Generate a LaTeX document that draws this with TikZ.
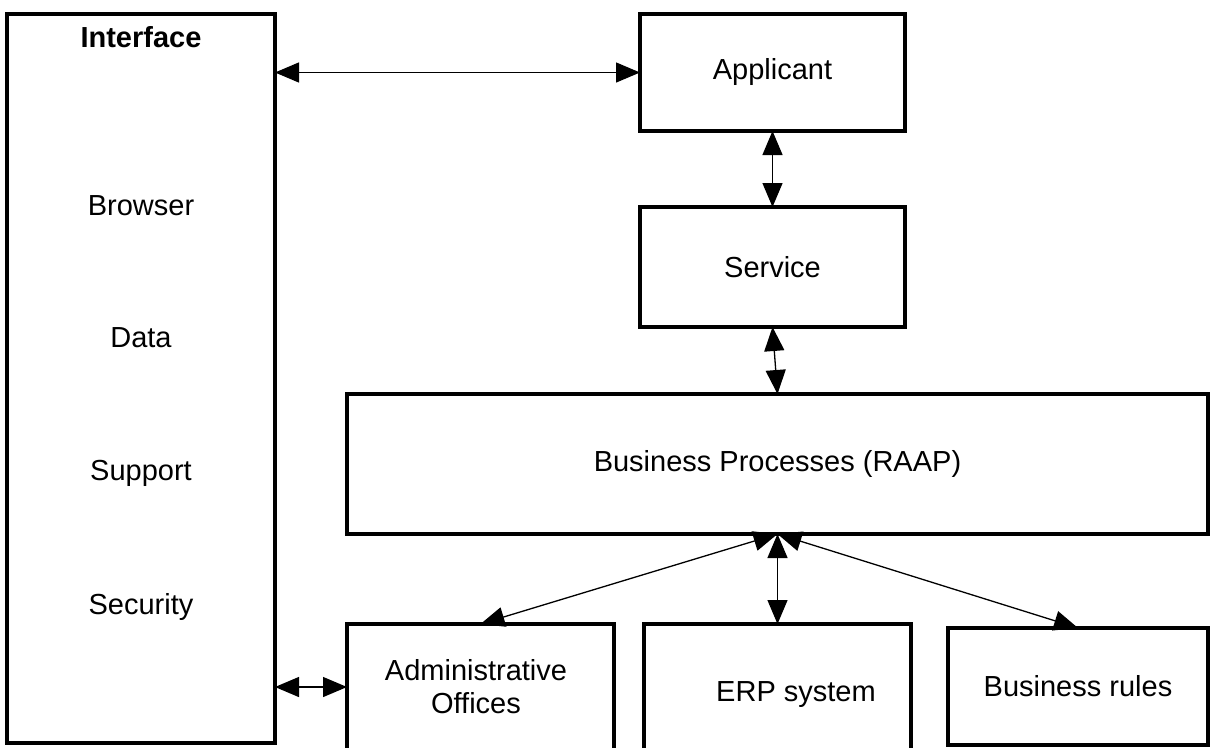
\documentclass[tikz,border=0pt]{standalone}
\usepackage{fontspec}
\setmainfont{Liberation Sans}
\usetikzlibrary{arrows.meta}

\tikzset{
  box/.style={draw=black, line width=3.3pt, fill=white, inner sep=0pt, outer sep=0pt,
              font=\fontsize{29}{33}\selectfont, align=center},
  txt/.style={inner sep=0pt, font=\fontsize{29}{33}\selectfont, align=center},
  link/.style={line width=1.3pt, {Triangle[length=24pt,width=20pt]}-{Triangle[length=24pt,width=20pt]}},
}

\begin{document}
\begin{tikzpicture}[x=1pt, y=-1pt]
  \useasboundingbox (0,0) rectangle (1215,747);
  \clip (0,0) rectangle (1215,747);

  % left column
  \node[box, minimum width=268pt, minimum height=729pt] (iface) at (141,378.5) {};
  \node[txt, font=\fontsize{29}{33}\selectfont\bfseries] (ititle) at (141,37) {Interface};
  \node[txt] (browser) at (141,206) {Browser};
  \node[txt] (data) at (141,338) {Data};
  \node[txt] (support) at (141,473) {Support};
  \node[txt] (security) at (141,607) {Security};

  % upper chain
  \node[box, minimum width=265pt, minimum height=117pt] (app) at (772.5,72.5) {Applicant};
  \node[box, minimum width=265pt, minimum height=120pt] (serv) at (772.5,267) {Service};
  \node[box, minimum width=861pt, minimum height=140pt] (bp) at (777.5,464) {Business Processes (RAAP)};

  % lower row
  \node[box, minimum width=267pt, minimum height=160pt] (admin) at (480.5,704) {};
  \node[txt] (admintxt) at (476,687) {Administrative\\Offices};
  \node[box, minimum width=267pt, minimum height=160pt] (erp) at (777.5,704) {};
  \node[txt] (erptxt) at (796,695) {ERP system};
  \node[box, minimum width=260pt, minimum height=117pt] (br) at (1078,686.5) {Business rules};

  % connectors
  \draw[link] (iface.east |- app.west) -- (app.west);
  \draw[link] (app.south) -- (serv.north);
  \draw[link] (serv.south) -- (bp.north);
  \draw[link] (bp.south) -- (admin.north);
  \draw[link] (bp.south) -- (erp.north);
  \draw[link] (bp.south) -- (br.north);
  \coordinate (ifaceport) at (iface.east |- 0,687);
  \draw[link] (ifaceport) -- (admin.west |- ifaceport);
\end{tikzpicture}
\end{document}
